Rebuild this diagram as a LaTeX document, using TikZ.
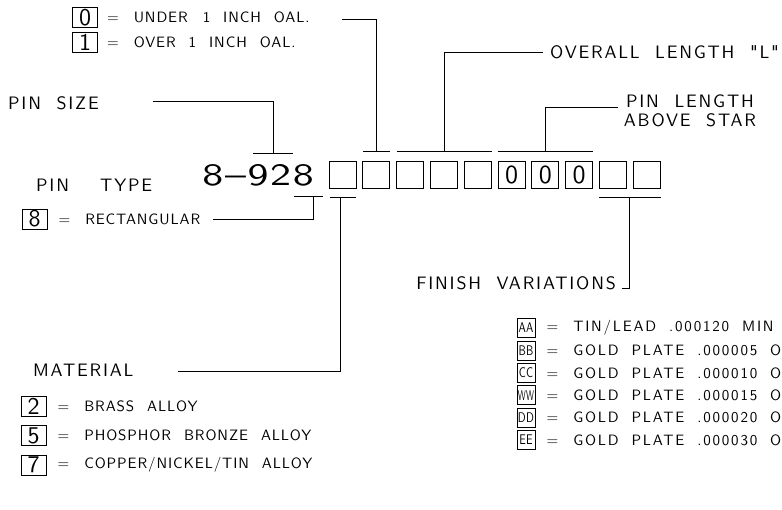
\documentclass[tikz,border=0pt]{standalone}
\usepackage{fontspec}
\usepackage{graphicx}
\setsansfont{lmsans10-regular}[Extension=.otf,LetterSpace=4]
\newfontfamily\headfont{lmsans10-regular}[Extension=.otf,WordSpace=2,LetterSpace=10]
\newfontfamily\notefont{lmsans10-regular}[Extension=.otf,WordSpace=2.2,LetterSpace=6]
\newfontfamily\finfont{lmsans10-regular}[Extension=.otf,WordSpace=1.9,LetterSpace=12]
\usetikzlibrary{positioning,calc}
\tikzset{
  cell/.style={rectangle,draw,line width=0.9pt,minimum width=27pt,minimum height=27pt,
    inner sep=0pt,font=\sffamily\fontsize{26}{26}\selectfont},
  key/.style={rectangle,draw,line width=0.8pt,minimum width=25pt,minimum height=20pt,
    inner sep=0pt,font=\sffamily\fontsize{24}{24}\selectfont},
  fkey/.style={rectangle,draw,line width=0.8pt,minimum width=18pt,minimum height=19pt,
    inner sep=0pt,font=\fontsize{14}{14}\selectfont},
  head/.style={inner sep=0pt,font=\headfont\fontsize{18}{18}\selectfont},
  note/.style={inner sep=0pt,anchor=west,font=\notefont\fontsize{15}{15}\selectfont},
  fnote/.style={note,font=\finfont\fontsize{15}{15}\selectfont},
  code/.style={inner sep=0pt,font=\sffamily\fontsize{31}{31}\selectfont},
  lead/.style={line width=0.8pt}
}
\newcommand{\fcode}[2][0.78]{\scalebox{#1}[1]{\sffamily #2}}
\begin{document}
\begin{tikzpicture}[x=1pt,y=-1pt]
  \useasboundingbox (0,0) rectangle (782,509);
  % part number
  \node[code,anchor=east] (pn) at (314,175) {\scalebox{1.35}[1]{8--928}};
  \foreach \i/\d in {1/{},2/{},3/{},4/{},5/{},6/0,7/0,8/0,9/{},10/{}}
    \node[cell] (b\i) at ({342.5+33.8*(\i-1)},174.5) {\d};

  % length under / over
  \node[key] (k0) at (85,17.5) {0};
  \node[key] (k1) at (85,42) {1};
  \node[note,right=9pt of k0] (oal0) {=\quad UNDER\quad 1 INCH OAL.};
  \node[note,right=9pt of k1] (oal1) {=\quad OVER 1 INCH OAL.};
  \draw[lead] ($(b2.north west)+(1,-9)$) -- ($(b2.north east)+(0,-9)$);
  \draw[lead] ($(k0.east)+(244,2)$) -| ($(b2.north)+(0,-9)$);

  % pin size
  \node[head,anchor=west] (size) at (8,103) {PIN SIZE};
  \draw[lead] ($(pn.north east)+(-61,-11)$) -- ($(pn.north east)+(-21,-11)$);
  \draw[lead] ($(size.west)+(145,-2)$) -| ($(pn.north east)+(-41,-11)$);

  % overall length
  \node[head,anchor=west] (oall) at (550,52) {OVERALL LENGTH "L"};
  \draw[lead] ($(b3.north west)+(1,-9)$) -- ($(b5.north east)+(0,-9)$);
  \draw[lead] ($(oall.west)+(-7,0)$) -| ($(b4.north)+(0,-9)$);

  % pin length above star
  \node[head,align=center,anchor=north] (plen) at (690,95) {PIN LENGTH\\[1pt]ABOVE STAR};
  \draw[lead] ($(b6.north west)+(0,-9)$) -- ($(b8.north east)+(0,-9)$);
  \draw[lead] ($(plen.north west)+(-6,12)$) -| ($(b7.north)+(0,-9)$);

  % pin type
  \node[head,anchor=west] (type) at (36,185) {PIN\ \ TYPE};
  \node[key] (k8) at (34.5,219) {8};
  \node[note,right=11pt of k8] (rect) {=\quad RECTANGULAR};
  \draw[lead] ($(pn.south east)+(-20,10)$) -- ($(pn.south east)+(9,10)$);
  \draw[lead] ($(k8.east)+(166,0)$) -| ($(pn.south east)+(-1,10)$);

  % material
  \node[head,anchor=west] (mat) at (33,370) {MATERIAL};
  \draw[lead] ($(b1.south west)+(1,9)$) -- ($(b1.south east)+(0,9)$);
  \draw[lead] ($(mat.west)+(145,1)$) -| ($(b1.south)+(-2,9)$);
  \foreach \c/\t [count=\n] in {2/BRASS ALLOY,5/PHOSPHOR BRONZE ALLOY,7/{COPPER/NICKEL/TIN ALLOY}}{
    \node[key] (m\n) at (33.5,{406+29.5*(\n-1)}) {\c};
    \node[note,right=11pt of m\n] (mt\n) {=\quad \t};
  }

  % finish variations
  \node[head,anchor=east] (fin) at (616,283) {FINISH VARIATIONS};
  \draw[lead] ($(b9.south west)+(0,9)$) -- ($(b10.south east)+(0,9)$);
  \draw[lead] ($(fin.east)+(6,5)$) -| ($(b9.south east)+(3,9)$);
  \foreach \c/\t [count=\n] in {{\fcode{AA}}/{TIN/LEAD .000120 MIN},{\fcode{BB}}/GOLD PLATE .000005 O,
      {\fcode{CC}}/GOLD PLATE .000010 O,{\fcode[0.6]{WW}}/GOLD PLATE .000015 O,
      {\fcode{DD}}/GOLD PLATE .000020 O,{\fcode{EE}}/GOLD PLATE .000030 O}{
    \node[fkey] (f\n) at (526,{328+22.4*(\n-1)}) {\c};
    \node[fnote,right=11pt of f\n] (ft\n) {=\quad \t};
  }
\end{tikzpicture}
\end{document}
